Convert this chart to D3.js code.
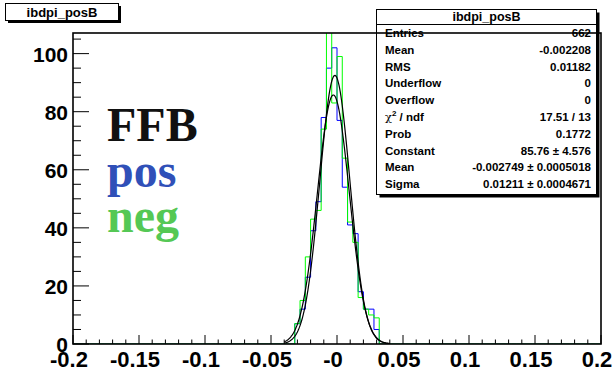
<!DOCTYPE html>
<html>
<head>
<meta charset="utf-8">
<script src="https://cdn.jsdelivr.net/npm/d3@7/dist/d3.min.js"></script>
<style>
body { margin: 0; background: #fff; }
svg { display: block; }
text { font-family: "Liberation Sans", Arial, sans-serif; font-weight: bold; }
text.legend { font-family: "Liberation Serif", "Times New Roman", serif; }
</style>
</head>
<body>
<svg id="chart" width="616" height="377"></svg>
<script>
// histogram bins: width 0.004, first filled bin starts at -0.032
var binStart = -0.032;
var binWidth = 0.004;
var posCounts = [7, 12, 23, 39, 49, 78, 95, 102, 77, 54, 41, 38, 18, 12, 12, 5];
var negCounts = [7, 15, 30, 43, 46, 74, 110, 83, 99, 64, 42, 35, 16, 12, 10, 9];

// gaussian fits: constant, mean, sigma
var posFit = [85.76, -0.002749, 0.01211];
var negFit = [92.5, -0.0016, 0.0114];
var fitRange = [-0.04, 0.04];

var xTicks = [-0.2, -0.15, -0.1, -0.05, 0, 0.05, 0.1, 0.15, 0.2];
var xTickLabels = ["-0.2", "-0.15", "-0.1", "-0.05", "-0", "0.05", "0.1", "0.15", "0.2"];
var yTicks = [0, 20, 40, 60, 80, 100];
var yTickLabels = ["0", "20", "40", "60", "80", "100"];

var statLabels = ["Entries", "Mean", "RMS", "Underflow", "Overflow", "chi2", "Prob", "Constant", "Mean", "Sigma"];
var statValues = ["662", "-0.002208", "0.01182", "0", "0", "17.51 / 13", "0.1772",
                  "85.76 \u00b1 4.576", "-0.002749 \u00b1 0.0005018", "0.01211 \u00b1 0.0004671"];

var legendNames = ["FFB", "pos", "neg"];
var legendColors = ["#111111", "#3050b8", "#55c855"];

var svg = d3.select("#chart");
var frame = {left: 73, right: 601, top: 33, bottom: 344};

var x = d3.scaleLinear().domain([-0.2, 0.2]).range([frame.left, frame.right]);
var y = d3.scaleLinear().domain([0, 107.1]).range([frame.bottom, frame.top]);

svg.append("clipPath").attr("id", "frameClip")
    .append("rect")
    .attr("x", frame.left).attr("y", frame.top)
    .attr("width", frame.right - frame.left).attr("height", frame.bottom - frame.top);

// title box
svg.append("rect").attr("x", 8).attr("y", 6).attr("width", 113).attr("height", 17).attr("fill", "#000");
svg.append("rect").attr("x", 5.5).attr("y", 3.5).attr("width", 113).attr("height", 17)
    .attr("fill", "#fff").attr("stroke", "#000");
svg.append("text").attr("x", 62).attr("y", 17).attr("text-anchor", "middle")
    .attr("font-size", 13).text("ibdpi_posB");

// histogram as a step outline over the whole axis
function steps(counts) {
    var nb = Math.round(0.4 / binWidth);
    var first = Math.round((binStart + 0.2) / binWidth);
    var pts = [[-0.2, 0]];
    for (var i = 0; i < nb; i++) {
        var lo = -0.2 + i * binWidth, hi = lo + binWidth;
        var k = i - first;
        var c = (k >= 0 && k < counts.length) ? counts[k] : 0;
        pts.push([lo, c], [hi, c]);
    }
    pts.push([0.2, 0]);
    return pts;
}
var stepLine = d3.line().x(function (d) { return x(d[0]); }).y(function (d) { return y(d[1]); });

var plot = svg.append("g").attr("clip-path", "url(#frameClip)");
plot.append("path").attr("d", stepLine(steps(posCounts)))
    .attr("fill", "none").attr("stroke", "#0000ff").attr("stroke-width", 1);
plot.append("path").attr("d", stepLine(steps(negCounts)))
    .attr("fill", "none").attr("stroke", "#00ff00").attr("stroke-width", 1);

function gaus(p) {
    var n = 160, pts = [];
    for (var i = 0; i <= n; i++) {
        var v = fitRange[0] + (fitRange[1] - fitRange[0]) * i / n;
        var z = (v - p[1]) / p[2];
        pts.push([v, p[0] * Math.exp(-0.5 * z * z)]);
    }
    return pts;
}
[posFit, negFit].forEach(function (p) {
    plot.append("path").attr("d", stepLine(gaus(p)))
        .attr("fill", "none").attr("stroke", "#000").attr("stroke-width", 1.2);
});

// legend words
legendNames.forEach(function (name, i) {
    svg.append("text").attr("class", "legend").attr("x", 107).attr("y", 141 + i * 45.5)
        .attr("font-size", 48).attr("fill", legendColors[i]).text(name);
});

// stats box
var sb = {x: 376.5, y: 9.5, w: 220, h: 185};
svg.append("rect").attr("x", sb.x + 3).attr("y", sb.y + 3).attr("width", sb.w).attr("height", sb.h).attr("fill", "#000");
svg.append("rect").attr("x", sb.x).attr("y", sb.y).attr("width", sb.w).attr("height", sb.h)
    .attr("fill", "#fff").attr("stroke", "#000");
svg.append("line").attr("x1", sb.x).attr("x2", sb.x + sb.w).attr("y1", 24.5).attr("y2", 24.5).attr("stroke", "#000");
svg.append("text").attr("x", sb.x + sb.w / 2).attr("y", 21).attr("text-anchor", "middle")
    .attr("font-size", 12.5).text("ibdpi_posB");
statLabels.forEach(function (lab, i) {
    var yy = 37 + i * 16.8;
    var t = svg.append("text").attr("x", 385).attr("y", yy).attr("font-size", 11.5);
    if (lab === "chi2") {
        t.append("tspan").style("font-family", "'DejaVu Serif', serif").style("font-weight", "normal").text("\u03c7");
        t.append("tspan").attr("dy", -5).attr("font-size", 8).text("2");
        t.append("tspan").attr("dy", 5).text(" / ndf");
    } else {
        t.text(lab);
    }
    svg.append("text").attr("x", 591).attr("y", yy).attr("text-anchor", "end")
        .attr("font-size", 11.5).text(statValues[i]);
});

// frame and axes (drawn last, on top of the stats box as in the original)
svg.append("rect").attr("x", frame.left).attr("y", frame.top)
    .attr("width", frame.right - frame.left).attr("height", frame.bottom - frame.top)
    .attr("fill", "none").attr("stroke", "#000").attr("stroke-width", 1.6);

var xg = svg.append("g");
d3.range(-20, 21).forEach(function (k) {
    var v = k / 100;
    var len = (k % 5 === 0) ? 9 : 4.5;
    xg.append("line").attr("x1", x(v)).attr("x2", x(v))
        .attr("y1", frame.bottom).attr("y2", frame.bottom - len).attr("stroke", "#000");
});
xTicks.forEach(function (v, i) {
    svg.append("text").attr("x", x(v) - 4).attr("y", 367).attr("text-anchor", "middle")
        .attr("font-size", 22).text(xTickLabels[i]);
});

var yg = svg.append("g");
d3.range(0, 106, 5).forEach(function (v) {
    var len = (v % 20 === 0) ? 16 : 8;
    yg.append("line").attr("x1", frame.left).attr("x2", frame.left + len)
        .attr("y1", y(v)).attr("y2", y(v)).attr("stroke", "#000");
});
yTicks.forEach(function (v, i) {
    svg.append("text").attr("x", 68).attr("y", y(v) + 8).attr("text-anchor", "end")
        .attr("font-size", 21).text(yTickLabels[i]);
});
</script>
</body>
</html>
